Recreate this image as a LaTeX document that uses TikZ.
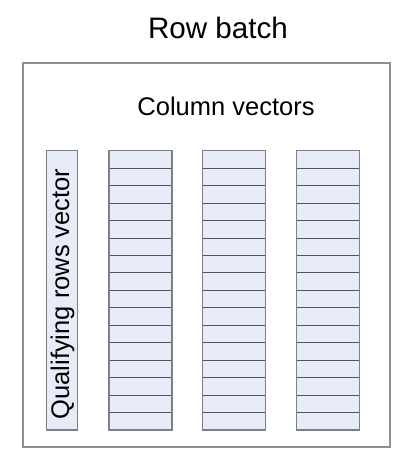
\documentclass[tikz,border=0pt]{standalone}
\usepackage{fontspec}
\setmainfont{Liberation Sans}
\definecolor{cellfill}{HTML}{E8ECF8}
\definecolor{cellborder}{HTML}{7F7F86}
\definecolor{rowline}{HTML}{50535E}
\definecolor{outerborder}{HTML}{909090}
\begin{document}
\begin{tikzpicture}[x=1pt,y=-1pt,
  outerbox/.style={draw=outerborder,line width=1.2pt},
  vecbox/.style={draw=cellborder,fill=cellfill,line width=1.1pt},
  rowsep/.style={draw=rowline,line width=0.9pt},
  bigtext/.style={font=\fontsize{29.6}{34}\selectfont,inner sep=0pt},
  midtext/.style={font=\fontsize{25.5}{30}\selectfont,inner sep=0pt}]
\useasboundingbox (0,0) rectangle (414,457);
\node[bigtext,anchor=center] (title) at (218,28) {Row batch};
\draw[outerbox] (23,63) rectangle (390,447);
\coordinate (outer) at (206.5,255);
\node[midtext,anchor=center] (colvec) at (226,106) {Column vectors};
\draw[vecbox] (46.3,150.7) rectangle (77.3,430);
\node[midtext,rotate=90,anchor=center] (qual) at (62.5,294) {Qualifying rows vector};
\foreach \x/\n in {109/c1,202.3/c2,296.3/c3}{
  \draw[vecbox] (\x,150.7) rectangle (\x+63,430);
  \foreach \i in {1,...,15}{
    \draw[rowsep] (\x,150.7+\i*17.46) -- (\x+63,150.7+\i*17.46);
  }
  \draw[draw=cellborder,line width=1.1pt] (\x,150.7) rectangle (\x+63,430);
}
\end{tikzpicture}
\end{document}
